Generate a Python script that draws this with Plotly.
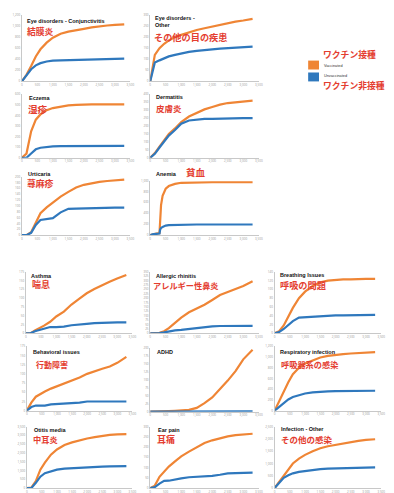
import plotly.graph_objects as go

W, H = 394, 493

# ---------------- data ----------------
days = [0, 150, 300, 450, 600, 800, 1000, 1250, 1500, 1750, 2000, 2250, 2500, 2750, 3000, 3300]
anemia_days = [0, 100, 200, 300, 320, 350, 400, 450, 500, 600, 800, 1000, 1500, 2000, 2500, 3000, 3300]

conj_vacc = [0, 120, 280, 450, 580, 700, 790, 860, 900, 930, 950, 975, 995, 1010, 1020, 1030]
conj_unvacc = [0, 110, 220, 290, 330, 360, 375, 380, 385, 390, 395, 400, 405, 405, 408, 410]

eyeother_vacc = [0, 120, 150, 170, 185, 200, 210, 222, 232, 240, 248, 257, 263, 270, 275, 282]
eyeother_unvacc = [0, 85, 95, 105, 113, 120, 127, 133, 138, 143, 145, 148, 150, 152, 155, 157]

eczema_vacc = [0, 40, 250, 360, 410, 450, 470, 485, 495, 500, 505, 505, 505, 505, 505, 505]
eczema_unvacc = [0, 0, 40, 80, 95, 105, 108, 110, 110, 110, 110, 110, 112, 112, 112, 112]

derm_vacc = [0, 30, 70, 110, 150, 185, 225, 260, 285, 305, 320, 335, 345, 350, 355, 360]
derm_unvacc = [0, 25, 65, 100, 140, 175, 215, 235, 240, 245, 245, 247, 248, 250, 250, 250]

urtic_vacc = [0, 0, 10, 40, 75, 95, 112, 132, 148, 163, 172, 178, 182, 185, 188, 190]
urtic_unvacc = [0, 0, 8, 35, 52, 55, 58, 78, 90, 91, 92, 93, 94, 94, 94, 94]

anemia_vacc = [0, 20, 30, 40, 300, 550, 720, 800, 850, 900, 940, 960, 970, 970, 970, 970, 970]
anemia_unvacc = [0, 20, 25, 30, 100, 130, 150, 165, 175, 185, 190, 195, 195, 195, 195, 195, 195]

asthma_vacc = [0, 0, 8, 14, 22, 33, 48, 62, 82, 98, 114, 126, 137, 147, 156, 166]
asthma_unvacc = [0, 0, 6, 10, 14, 18, 18, 19, 23, 26, 27, 29, 30, 31, 31, 31]

rhinitis_vacc = [0, 0, 3, 12, 30, 60, 90, 120, 140, 163, 190, 218, 235, 253, 270, 297]
rhinitis_unvacc = [0, 0, 2, 6, 12, 17, 20, 25, 32, 36, 40, 42, 43, 43, 43, 43]

breathing_vacc = [0, 5, 18, 38, 58, 80, 95, 108, 116, 120, 122, 123, 123, 124, 124, 124]
breathing_unvacc = [0, 3, 10, 18, 28, 36, 37, 38, 39, 40, 41, 41, 41, 42, 42, 42]

behav_vacc = [0, 22, 38, 46, 52, 60, 66, 74, 82, 90, 100, 108, 114, 120, 130, 146]
behav_unvacc = [0, 10, 14, 14, 14, 17, 18, 19, 21, 22, 25, 25, 25, 25, 25, 25]

adhd_vacc = [0, 0, 0, 1, 2, 3, 4, 6, 12, 27, 45, 70, 98, 128, 165, 195]
adhd_unvacc = [0, 0, 0, 0, 0, 0, 0, 1, 1, 1, 1, 1, 1, 1, 1, 1]

resp_vacc = [0, 180, 380, 530, 680, 800, 880, 940, 990, 1020, 1040, 1055, 1065, 1075, 1085, 1090]
resp_unvacc = [0, 70, 140, 210, 255, 290, 320, 340, 355, 360, 365, 367, 369, 370, 371, 372]

otitis_vacc = [0, 30, 400, 1050, 1450, 1900, 2200, 2450, 2600, 2720, 2820, 2900, 2980, 3030, 3060, 3075]
otitis_unvacc = [0, 0, 300, 650, 850, 950, 1050, 1110, 1140, 1165, 1180, 1200, 1220, 1235, 1245, 1250]

earpain_vacc = [0, 12, 55, 80, 105, 130, 155, 178, 200, 220, 233, 243, 252, 258, 262, 265]
earpain_unvacc = [0, 5, 22, 35, 36, 40, 47, 53, 55, 55, 60, 65, 72, 73, 74, 75]

infother_vacc = [0, 250, 550, 800, 1000, 1200, 1350, 1500, 1620, 1700, 1760, 1820, 1870, 1920, 1960, 1985]
infother_unvacc = [0, 220, 420, 520, 600, 660, 700, 740, 770, 790, 800, 820, 835, 838, 840, 840]

titles_en = ["Eye disorders - Conjunctivitis", "Eye disorders -<br>Other", "Eczema", "Dermatitis",
             "Urticaria", "Anemia", "Asthma", "Allergic rhinitis", "Breathing Issues",
             "Behavioral issues", "ADHD", "Respiratory infection", "Otitis media", "Ear pain",
             "Infection - Other"]
titles_jp = ["結膜炎", "その他の目の疾患", "湿疹", "皮膚炎", "蕁麻疹", "貧血", "喘息", "アレルギー性鼻炎",
             "呼吸の問題", "行動障害", "", "呼吸器系の感染", "中耳炎", "耳痛", "その他の感染"]
y_max = [1200, 300, 600, 400, 200, 1000, 175, 350, 140, 175, 200, 1200, 3500, 300, 2500]
y_step = [200, 50, 100, 50, 20, 200, 25, 25, 20, 25, 25, 200, 500, 50, 500]
x_ticks = [0, 500, 1000, 1500, 2000, 2500, 3000, 3500]

legend_jp = ["ワクチン接種", "ワクチン非接種"]
legend_en = ["Vaccinated", "Unvaccinated"]

series = [
    (days, conj_vacc, conj_unvacc), (days, eyeother_vacc, eyeother_unvacc),
    (days, eczema_vacc, eczema_unvacc), (days, derm_vacc, derm_unvacc),
    (days, urtic_vacc, urtic_unvacc), (anemia_days, anemia_vacc, anemia_unvacc),
    (days, asthma_vacc, asthma_unvacc), (days, rhinitis_vacc, rhinitis_unvacc),
    (days, breathing_vacc, breathing_unvacc), (days, behav_vacc, behav_unvacc),
    (days, adhd_vacc, adhd_unvacc), (days, resp_vacc, resp_unvacc),
    (days, otitis_vacc, otitis_unvacc), (days, earpain_vacc, earpain_unvacc),
    (days, infother_vacc, infother_unvacc),
]

# ---------------- layout geometry (pixels) ----------------
boxes = [
    (13, 123, 5, 72), (143, 253, 5, 72),
    (13, 123, 85, 149), (143, 253, 85, 149),
    (13, 123, 168, 227), (143, 253, 172, 227),
    (17, 125, 264, 326), (143, 253, 264, 326), (269, 377, 264, 326),
    (18, 125, 339, 404), (143, 253, 341, 405), (269, 377, 339, 404),
    (18, 125, 420, 482), (143, 253, 420, 482), (269, 377, 420, 482),
]
title_pos = [(16, 11), (146, 12), (18, 89), (147, 88), (17, 165), (147, 165),
             (20, 268), (147, 268), (272, 267), (22, 345), (148, 345), (272, 345),
             (23, 423), (149, 423), (273, 422)]
jp_pos = [(16, 22), (145, 27), (17, 100), (147, 99), (16, 175), (177, 163),
          (21, 277), (144, 277), (272, 277), (25, 357), (0, 0), (273, 357),
          (22, 433), (148, 433), (273, 433)]
jp_size = [8.8, 9.2, 9.5, 8.5, 8.8, 9.5, 9, 8.2, 9.2, 8, 9, 8.2, 8.2, 9, 8.5]

ORANGE = "#EF8535"
BLUE = "#2F78BD"
RED = "#E43D30"
TICKC = "#9a9a9a"
AXC = "#c8c8c8"


def px(x):
    return x / W


def py(y):
    return 1 - y / H


fig = go.Figure()
layout = dict(width=W, height=H, margin=dict(l=0, r=0, t=0, b=0),
              paper_bgcolor="white", plot_bgcolor="white", showlegend=False)
annotations = []

for i, (xs, vacc, unvacc) in enumerate(series):
    n = i + 1
    xa = "x" if n == 1 else f"x{n}"
    ya = "y" if n == 1 else f"y{n}"
    fig.add_trace(go.Scatter(x=xs, y=vacc, mode="lines", xaxis=xa, yaxis=ya,
                             line=dict(color=ORANGE, width=2.2), hoverinfo="skip"))
    fig.add_trace(go.Scatter(x=xs, y=unvacc, mode="lines", xaxis=xa, yaxis=ya,
                             line=dict(color=BLUE, width=2.2), hoverinfo="skip"))
    x0, x1, yt, yb = boxes[i]
    xkey = "xaxis" if n == 1 else f"xaxis{n}"
    ykey = "yaxis" if n == 1 else f"yaxis{n}"
    layout[xkey] = dict(domain=[px(x0), px(x1)], anchor=ya, range=[0, 3500],
                        tickvals=x_ticks, ticktext=[f"{t:,}" for t in x_ticks],
                        tickfont=dict(size=3, color=TICKC), showgrid=False, zeroline=False,
                        showline=True, linecolor=AXC, linewidth=1, ticks="", ticklen=0,
                        fixedrange=True)
    layout[ykey] = dict(domain=[py(yb), py(yt)], anchor=xa, range=[0, y_max[i]],
                        dtick=y_step[i], tick0=0, tickformat=",",
                        tickfont=dict(size=3, color=TICKC), showgrid=False, zeroline=False,
                        showline=True, linecolor=AXC, linewidth=1, ticks="", ticklen=0,
                        fixedrange=True)
    tx, ty = title_pos[i]
    annotations.append(dict(x=px(tx), y=py(ty), xref="paper", yref="paper",
                            text=f"<b>{titles_en[i]}</b>", showarrow=False,
                            xanchor="left", yanchor="middle", align="left",
                            font=dict(family="Liberation Sans, Arial", size=5.5, color="#111")))
    if titles_jp[i]:
        jx, jy = jp_pos[i]
        annotations.append(dict(x=px(jx), y=py(jy), xref="paper", yref="paper",
                                text=f"<b>{titles_jp[i]}</b>", showarrow=False,
                                xanchor="left", yanchor="middle",
                                font=dict(family="Noto Sans CJK JP", size=jp_size[i], color=RED)))

# legend (built manually)
shapes = [
    dict(type="rect", xref="paper", yref="paper", x0=px(303), x1=px(314), y0=py(60), y1=py(51),
         fillcolor=ORANGE, line=dict(width=0)),
    dict(type="rect", xref="paper", yref="paper", x0=px(303), x1=px(314), y0=py(72), y1=py(63),
         fillcolor=BLUE, line=dict(width=0)),
]
annotations += [
    dict(x=px(316), y=py(45), xref="paper", yref="paper", text=f"<b>{legend_jp[0]}</b>",
         showarrow=False, xanchor="left", yanchor="middle",
         font=dict(family="Noto Sans CJK JP", size=8.8, color=RED)),
    dict(x=px(317), y=py(56), xref="paper", yref="paper", text=legend_en[0],
         showarrow=False, xanchor="left", yanchor="middle",
         font=dict(family="Liberation Sans, Arial", size=3.8, color="#333")),
    dict(x=px(317), y=py(67), xref="paper", yref="paper", text=legend_en[1],
         showarrow=False, xanchor="left", yanchor="middle",
         font=dict(family="Liberation Sans, Arial", size=3.8, color="#333")),
    dict(x=px(316), y=py(76), xref="paper", yref="paper", text=f"<b>{legend_jp[1]}</b>",
         showarrow=False, xanchor="left", yanchor="middle",
         font=dict(family="Noto Sans CJK JP", size=8.8, color=RED)),
]

layout["annotations"] = annotations
layout["shapes"] = shapes
fig.update_layout(**layout)
fig.write_html("out.html", config={"displayModeBar": False})
